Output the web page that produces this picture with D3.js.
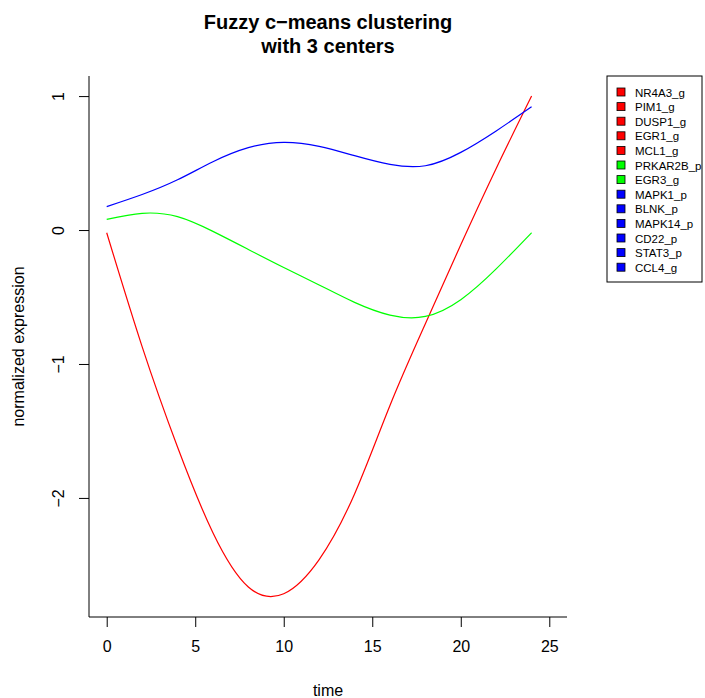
<!DOCTYPE html>
<html>
<head>
<meta charset="utf-8">
<script src="https://cdn.jsdelivr.net/npm/d3@7"></script>
<style>
  body { margin: 0; background: #fff; }
  text { font-family: "Liberation Sans", Arial, sans-serif; }
</style>
</head>
<body>
<script>
const width = 705;
const height = 698;

// time points
const times = [0, 2, 4, 6, 8, 10, 12, 14, 16, 18, 20, 22, 24];
const redValues   = [-0.02, -0.87, -1.62, -2.26, -2.665, -2.715, -2.46, -1.97, -1.31, -0.70, -0.11, 0.46, 1.0];
const greenValues = [0.08, 0.125, 0.10, -0.01, -0.145, -0.28, -0.41, -0.54, -0.635, -0.645, -0.52, -0.29, -0.02];
const blueValues  = [0.175, 0.265, 0.375, 0.51, 0.615, 0.655, 0.625, 0.555, 0.49, 0.48, 0.58, 0.74, 0.92];

const xTicks = [0, 5, 10, 15, 20, 25];
const yTicks = [-2, -1, 0, 1];

const legendNames = ["NR4A3_g", "PIM1_g", "DUSP1_g", "EGR1_g", "MCL1_g", "PRKAR2B_p", "EGR3_g",
    "MAPK1_p", "BLNK_p", "MAPK14_p", "CD22_p", "STAT3_p", "CCL4_g"];
const legendClusters = [0, 0, 0, 0, 0, 1, 1, 2, 2, 2, 2, 2, 2];
const clusterColors = ["#ff0000", "#00ff00", "#0000ff"];

// plot region (R style, bty = "l")
const plotLeft = 89, plotRight = 567, plotTop = 76, plotBottom = 617;

const x = d3.scaleLinear().domain([-1, 26]).range([plotLeft, plotRight]);
const y = d3.scaleLinear().domain([-2.889, 1.15]).range([plotBottom, plotTop]);

const svg = d3.select('body').append('svg')
    .attr('width', width)
    .attr('height', height);

// title
svg.append('text')
    .attr('x', (plotLeft + plotRight) / 2)
    .attr('y', 29)
    .attr('text-anchor', 'middle')
    .style('font-size', '20px')
    .style('font-weight', 'bold')
    .text('Fuzzy c\u2212means clustering');
svg.append('text')
    .attr('x', (plotLeft + plotRight) / 2)
    .attr('y', 53)
    .attr('text-anchor', 'middle')
    .style('font-size', '20px')
    .style('font-weight', 'bold')
    .text('with 3 centers');

// L-shaped frame
svg.append('path')
    .attr('d', `M${plotLeft},${plotTop}V${plotBottom}H${plotRight}`)
    .attr('fill', 'none')
    .attr('stroke', '#000')
    .attr('stroke-width', 1);

// x axis
const xAxis = d3.axisBottom(x).tickValues(xTicks).tickSize(10).tickPadding(14);
const gx = svg.append('g')
    .attr('transform', 'translate(0,' + plotBottom + ')')
    .call(xAxis);
gx.select('.domain').remove();
gx.selectAll('text').style('font-size', '16px').attr('fill', '#000')
    .style('font-family', '"Liberation Sans", Arial, sans-serif');

// y axis (labels rotated like R)
const yAxis = d3.axisLeft(y).tickValues(yTicks).tickSize(10)
    .tickFormat(d => d < 0 ? '\u2212' + Math.abs(d) : String(d));
const gy = svg.append('g')
    .attr('transform', 'translate(' + plotLeft + ',0)')
    .call(yAxis);
gy.select('.domain').remove();
gy.selectAll('text')
    .style('font-size', '16px')
    .style('font-family', '"Liberation Sans", Arial, sans-serif')
    .attr('fill', '#000')
    .attr('x', null).attr('dy', null)
    .attr('text-anchor', 'middle')
    .attr('transform', 'translate(-25,0) rotate(-90)');

// axis titles
svg.append('text')
    .attr('x', (plotLeft + plotRight) / 2)
    .attr('y', 696)
    .attr('text-anchor', 'middle')
    .style('font-size', '16px')
    .text('time');
svg.append('text')
    .attr('transform', 'translate(24,' + ((plotTop + plotBottom) / 2) + ') rotate(-90)')
    .attr('text-anchor', 'middle')
    .style('font-size', '16px')
    .text('normalized expression');

// cluster centre curves
const line = d3.line()
    .x(d => x(d.t))
    .y(d => y(d.v))
    .curve(d3.curveNatural);

const series = [redValues, greenValues, blueValues];
series.forEach((vals, i) => {
    svg.append('path')
        .attr('d', line(times.map((t, j) => ({ t: t, v: vals[j] }))))
        .attr('fill', 'none')
        .attr('stroke', clusterColors[i])
        .attr('stroke-width', 1.2);
});

// legend
const legX = 607, legY = 76, legW = 95, legH = 206, rowH = 14.6;
svg.append('rect')
    .attr('x', legX).attr('y', legY)
    .attr('width', legW).attr('height', legH)
    .attr('fill', '#fff').attr('stroke', '#000').attr('stroke-width', 1);

const rows = svg.selectAll('.leg')
    .data(legendNames)
    .enter().append('g')
    .attr('class', 'leg')
    .attr('transform', (d, i) => 'translate(' + legX + ',' + (legY + 16 + i * rowH) + ')');
rows.append('rect')
    .attr('x', 10).attr('y', -4)
    .attr('width', 8).attr('height', 8)
    .attr('fill', (d, i) => clusterColors[legendClusters[i]])
    .attr('stroke', '#000').attr('stroke-width', 0.8);
rows.append('text')
    .attr('x', 28).attr('y', 4.5)
    .style('font-size', '11.5px')
    .text(d => d);
</script>
</body>
</html>
